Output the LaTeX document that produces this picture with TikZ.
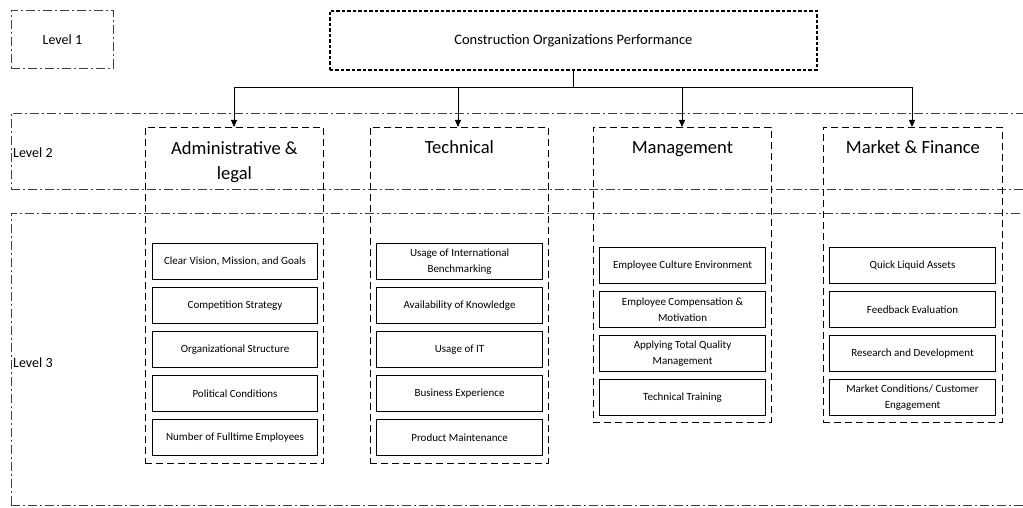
\documentclass[tikz,border=0pt]{standalone}
\usepackage{fontspec}
\setmainfont{Carlito}
\usetikzlibrary{arrows.meta}
\tikzset{
  x=1pt, y=-1pt,
  levelbox/.style={draw=black!75, line width=0.8pt, dash pattern=on 9pt off 3pt on 2pt off 3pt, anchor=north west, inner sep=0pt},
  catbox/.style={draw=black, line width=0.8pt, dash pattern=on 7pt off 4pt, anchor=north west, inner sep=0pt, minimum width=178pt},
  topbox/.style={draw=black, line width=1.8pt, dash pattern=on 3.5pt off 2pt, anchor=north west, inner sep=0pt, minimum width=487pt, minimum height=59pt, font=\fontsize{14.5}{17}\selectfont},
  itembox/.style={draw=black, line width=1.1pt, anchor=north west, inner sep=0pt, minimum width=166pt, minimum height=36pt, align=center, font=\fontsize{11}{15.5}\selectfont},
  catlabel/.style={anchor=north, align=center, font=\fontsize{18.6}{25}\selectfont, inner sep=0pt, execute at begin node=\strut},
  lvlabel/.style={anchor=west, inner sep=0pt, font=\fontsize{14}{16}\selectfont},
  conn/.style={draw=black, line width=0.9pt},
  arr/.style={conn, -{Triangle[length=7pt,width=6pt]}},
}
\begin{document}
\begin{tikzpicture}
\useasboundingbox (0,0) rectangle (1023,508);
\clip (0,0) rectangle (1023,508);
% level bands
\node[levelbox, minimum width=102pt, minimum height=58pt, font=\fontsize{14}{16}\selectfont] (lv1) at (11,10) {Level 1};
\node[levelbox, minimum width=1030pt, minimum height=76pt] (lv2) at (11,113) {};
\node[levelbox, minimum width=1030pt, minimum height=292pt] (lv3) at (11,213) {};
\node[lvlabel] (lv2t) at (13,153) {Level 2};
\node[lvlabel] (lv3t) at (13,363) {Level 3};
% top node
\node[topbox] (top) at (329,10) {Construction Organizations Performance};
% categories
\node[catbox, minimum height=336pt] (adm) at (145,127) {};
\node[catbox, minimum height=336pt] (tec) at (370,127) {};
\node[catbox, minimum height=295pt] (man) at (593,127) {};
\node[catbox, minimum width=179pt, minimum height=295pt] (mkt) at (823,127) {};
\node[catlabel] (admt) at (adm.north) [yshift=-14.5pt] {Administrative \&\\legal};
\node[catlabel] (tect) at (tec.north) [yshift=-8.5pt] {Technical};
\node[catlabel] (mant) at (man.north) [yshift=-8.5pt] {Management};
\node[catlabel] (mktt) at (mkt.north) [yshift=-8.5pt] {Market \& Finance};
% connectors
\coordinate (bus) at (573,87);
\draw[conn] (top.south -| bus) -- (bus);
\draw[arr] (bus) -| (234,127);
\draw[arr] (bus) -| (458,127);
\draw[arr] (bus) -| (682,127);
\draw[arr] (bus) -| (912,127);
% administrative items
\node[itembox, minimum width=165pt] (a1) at (152,243) {Clear Vision, Mission, and Goals};
\node[itembox, minimum width=165pt] (a2) at (152,287) {Competition Strategy};
\node[itembox, minimum width=165pt] (a3) at (152,331) {Organizational Structure};
\node[itembox, minimum width=165pt] (a4) at (152,375) {Political Conditions};
\node[itembox, minimum width=165pt] (a5) at (152,419) {Number of Fulltime Employees};
% technical items
\node[itembox] (t1) at (376,243) {Usage of International\\Benchmarking};
\node[itembox] (t2) at (376,287) {Availability of Knowledge};
\node[itembox] (t3) at (376,331) {Usage of IT};
\node[itembox] (t4) at (376,375) {Business Experience};
\node[itembox] (t5) at (376,419) {Product Maintenance};
% management items
\node[itembox] (m1) at (599,247) {Employee Culture Environment};
\node[itembox] (m2) at (599,291) {Employee Compensation \&\\Motivation};
\node[itembox] (m3) at (599,335) {Applying Total Quality\\Management};
\node[itembox] (m4) at (599,379) {Technical Training};
% market items
\node[itembox] (k1) at (829,247) {Quick Liquid Assets};
\node[itembox] (k2) at (829,291) {Feedback Evaluation};
\node[itembox] (k3) at (829,335) {Research and Development};
\node[itembox] (k4) at (829,379) {Market Conditions/ Customer\\Engagement};
\end{tikzpicture}
\end{document}
